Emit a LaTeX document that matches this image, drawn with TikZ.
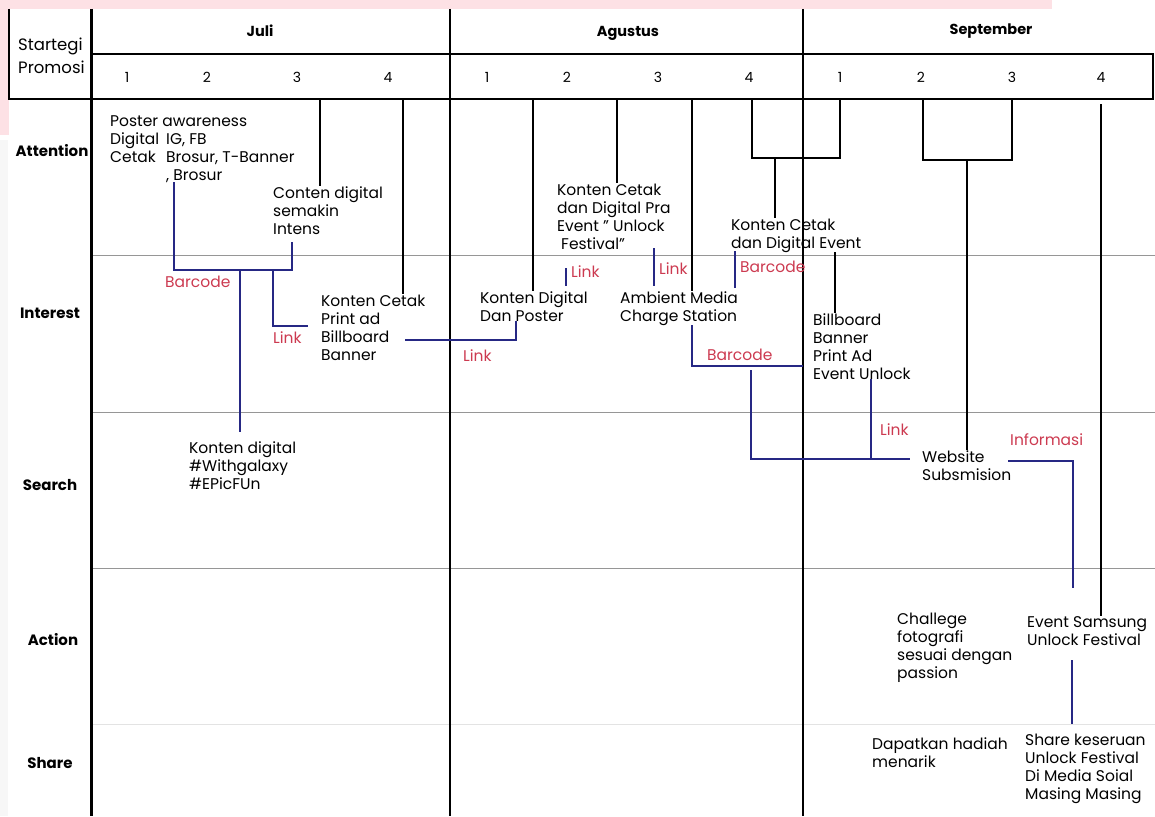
\documentclass[tikz,border=0pt]{standalone}
\usepackage{fontspec}
\setmainfont{Poppins}
\definecolor{navyLine}{RGB}{38,40,132}
\definecolor{redLabel}{RGB}{204,58,80}
\definecolor{rowGray}{RGB}{150,150,150}
\definecolor{pinkBand}{RGB}{253,225,229}
\begin{document}
\begin{tikzpicture}[x=1pt,y=-1pt,
  txt/.style={anchor=base west,inner sep=0pt,align=left,font=\fontsize{15.5}{18}\selectfont},
  lbl/.style={txt,text=redLabel},
  rowname/.style={inner sep=0pt,font=\fontsize{15}{18}\selectfont\bfseries},
  month/.style={inner sep=0pt,font=\fontsize{14.5}{18}\selectfont\bfseries},
  week/.style={inner sep=0pt,font=\fontsize{14}{18}\selectfont},
  wire/.style={line width=2pt},
  link/.style={navyLine,line width=2pt}]
\useasboundingbox (0,0) rectangle (1155,816);
\fill[pinkBand] (0,0) rectangle (1052,9);
\fill[pinkBand] (0,0) rectangle (9,135);
\fill[gray!6] (0,140) rectangle (8,816);

\foreach \y in {255,412,568} \draw[rowGray,line width=1pt] (91,\y) -- (1155,\y);
\draw[gray!22,line width=1pt] (91,724) -- (1155,724);

\draw[line width=3pt] (91,9) -- (91,816);
\draw[wire] (450,9) -- (450,816);
\draw[wire] (803,9) -- (803,816);
\draw[wire] (9,9) -- (9,99) -- (1153,99) -- (1153,54) -- (91,54);

\node[txt,font=\fontsize{16.5}{23}\selectfont] (strategi) at (18,73) {Startegi\\Promosi};
\node[month] (juli) at (260,31) {Juli};
\node[month] (agustus) at (628,33) {Agustus};
\node[month] (september) at (991,31) {September};
\foreach \x [count=\i] in {127,207,297,388} \node[week] (j\i) at (\x,77) {\i};
\foreach \x [count=\i] in {487,567,658,749} \node[week] (a\i) at (\x,77) {\i};
\foreach \x [count=\i] in {840,921,1012,1101} \node[week] (s\i) at (\x,77) {\i};

\node[rowname] (attention) at (52,151) {Attention};
\node[rowname] (interest) at (50,313) {Interest};
\node[rowname] (search) at (50,485) {Search};
\node[rowname] (action) at (53,640) {Action};
\node[rowname] (share) at (50,763) {Share};

\node[txt] (poster) at (110,126) {Poster awareness};
\node[txt] (kind) at (110,162) {Digital\\Cetak};
\node[txt] (media) at (166,180) {IG, FB\\Brosur, T-Banner\\, Brosur};
\node[txt] (conten) at (273,234) {Conten digital\\semakin\\Intens};
\node[txt] (cetakPrint) at (321,360) {Konten Cetak\\Print ad\\Billboard\\Banner};
\node[txt] (galaxy) at (189,489) {Konten digital\\\#Withgalaxy\\\#EPicFUn};
\node[txt] (praEvent) at (557,249) {Konten Cetak\\dan Digital Pra\\Event " Unlock\\\hspace*{4pt}Festival"};
\node[txt] (digPoster) at (480,321) {Konten Digital\\Dan Poster};
\node[txt] (ambient) at (620,321) {Ambient Media\\Charge Station};
\node[txt] (evDigital) at (731,248) {Konten Cetak\\dan Digital Event};
\node[txt] (billboard) at (813,379) {Billboard\\Banner\\Print Ad\\Event Unlock};
\node[txt] (website) at (922,480) {Website\\Subsmision};
\node[txt] (challenge) at (897,678) {Challege\\fotografi\\sesuai dengan\\passion};
\node[txt] (evSamsung) at (1027,645) {Event Samsung\\Unlock Festival};
\node[txt] (hadiah) at (872,767) {Dapatkan hadiah\\menarik};
\node[txt] (shareFest) at (1025,799) {Share keseruan\\Unlock Festival\\Di Media Soial\\Masing Masing};

\node[lbl] (barcodeJ) at (165,287) {Barcode};
\node[lbl] (linkJ) at (273,343) {Link};
\node[lbl] (linkBill) at (463,361) {Link};
\node[lbl] (linkDig) at (571,277) {Link};
\node[lbl] (linkPra) at (659,274) {Link};
\node[lbl] (barcodeEv) at (740,272) {Barcode};
\node[lbl] (barcodeAmb) at (707,360) {Barcode};
\node[lbl] (linkBb) at (880,435) {Link};
\node[lbl] (informasi) at (1010,445) {Informasi};

\coordinate (tapJ3) at (320,99);
\coordinate (tapJ4) at (403,99);
\coordinate (tapA2) at (533,99);
\coordinate (tapA2b) at (617,99);
\coordinate (tapA3) at (692,99);
\coordinate (tapA4) at (752,99);
\coordinate (tapS1) at (840,99);
\coordinate (tapS2) at (923,99);
\coordinate (tapS3) at (1012,99);
\coordinate (tapS4) at (1101,104);
\coordinate (joinA) at (775,158);
\coordinate (joinS) at (967,160);

\draw[wire] (tapJ3) -- (tapJ3 |- conten.north);
\draw[wire] (tapJ4) -- (tapJ4 |- cetakPrint.north);
\draw[wire] (tapA2) -- (tapA2 |- digPoster.north);
\draw[wire] (tapA2b) -- (tapA2b |- praEvent.north);
\draw[wire] (tapA3) -- (tapA3 |- ambient.north);
\draw[wire] (tapA4) |- (joinA) -| (tapS1);
\draw[wire] (joinA) -- (joinA |- evDigital.north);
\draw[wire] (tapS2) |- (joinS) -| (tapS3);
\draw[wire] (joinS) -- (joinS |- website.north);
\draw[wire] (tapS4) -- (tapS4 |- evSamsung.north);
\draw[wire] (835,252) coordinate (evDrop) -- (evDrop |- billboard.north);

\coordinate (bcL) at (174,270);
\coordinate (bcR) at (292,270);
\coordinate (bcM) at (240,270);
\coordinate (lkJ) at (273,270);
\coordinate (bbL) at (405,340);
\coordinate (bbR) at (516,340);
\coordinate (ambCorner) at (692,366);
\coordinate (ambEnd) at (803,366);
\coordinate (webL) at (751,370);
\coordinate (webC) at (751,459);
\coordinate (webE) at (910,459);
\coordinate (bbLink) at (871,459);
\coordinate (infoL) at (1008,461);
\coordinate (infoC) at (1073,461);
\coordinate (infoE) at (1073,588);
\coordinate (festTop) at (1072,660);
\coordinate (festEnd) at (1072,724);

\draw[link] (media.south -| bcL) -- (bcL) -- (bcR) -- (292,242);
\draw[link] (bcM) -- (240,432);
\draw[link] (lkJ) |- (308,326);
\draw[link] (bbL) -- (bbR) -- (bbR |- digPoster.south);
\draw[link] (566,268) -- (566,286);
\draw[link] (654,248) -- (654,286);
\draw[link] (735,251) -- (735,288);
\draw[link] (ambCorner |- ambient.south) -- (ambCorner) -- (ambEnd);
\draw[link] (webL) -- (webC) -- (webE);
\draw[link] (bbLink |- billboard.south) -- (bbLink);
\draw[link] (infoL) -- (infoC) -- (infoE);
\draw[link] (festTop) -- (festEnd);
\end{tikzpicture}
\end{document}
